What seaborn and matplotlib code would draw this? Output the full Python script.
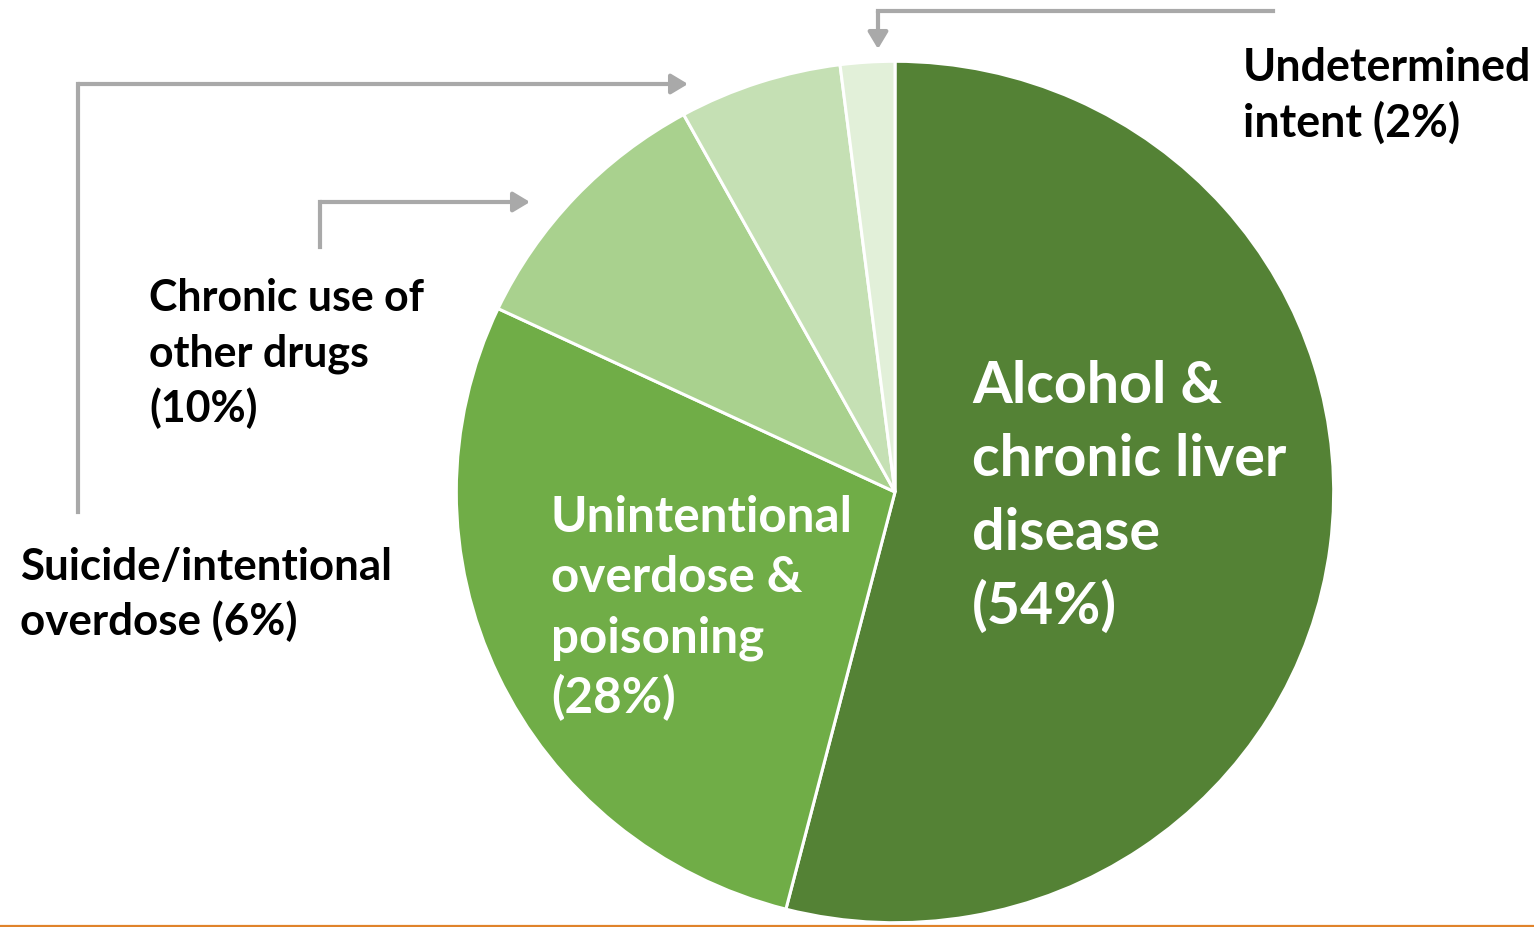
import matplotlib
matplotlib.use("Agg")
import matplotlib.pyplot as plt
import seaborn as sns

# Causes of death, share of total (%), clockwise from 12 o'clock
categories = [
    "Alcohol & chronic liver disease",
    "Unintentional overdose & poisoning",
    "Chronic use of other drugs",
    "Suicide/intentional overdose",
    "Undetermined intent",
]
shares = [54, 28, 10, 6, 2]
label_heads = [
    ["Alcohol &", "chronic liver", "disease"],
    ["Unintentional", "overdose &", "poisoning"],
    ["Chronic use of", "other drugs"],
    ["Suicide/intentional", "overdose"],
    ["Undetermined", "intent"],
]
slice_colors = ["#548235", "#70AD47", "#A9D18E", "#C5E0B4", "#E2F0D9"]

W, H, DPI = 1534, 928, 100
sns.set_theme(style="white")
plt.rcParams["font.family"] = ["Lato", "DejaVu Sans"]

fig = plt.figure(figsize=(W / DPI, H / DPI), dpi=DPI)
fig.patch.set_facecolor("white")

# pie gets its own axes spanning its pixel box (left, top, right, bottom)
pl, pt, pr, pb = 455, 61, 1335, 925
pie_ax = fig.add_axes([pl / W, (H - pb) / H, (pr - pl) / W, (pb - pt) / H])
pie_ax.pie(
    shares,
    colors=slice_colors,
    radius=1,
    startangle=90,
    counterclock=False,
    wedgeprops=dict(edgecolor="white", linewidth=2.2),
)
pie_ax.set_xlim(-1.003, 1.003)
pie_ax.set_ylim(-1.003, 1.003)
pie_ax.set_aspect("auto")
pie_ax.axis("off")

# overlay in pixel-like coordinates, y pointing down
ax = fig.add_axes([0, 0, 1, 1])
ax.set_xlim(0, W)
ax.set_ylim(H, 0)
ax.axis("off")
ax.patch.set_alpha(0)


def label_text(i):
    lines = list(label_heads[i])
    pct = f"({shares[i]}%)"
    if i in (0, 1, 2):
        lines.append(pct)
    else:
        lines[-1] = f"{lines[-1]} {pct}"
    return lines


# (x, first baseline, line step, size, colour)
placements = {
    0: (972, 403, 73.5, 41.3, "white"),
    1: (551, 532, 60.5, 35.6, "white"),
    2: (149, 311, 55.5, 30.9, "black"),
    3: (20, 580, 55.5, 31.6, "black"),
    4: (1243, 81, 56, 32.2, "black"),
}
for i, (x, y0, step, size, col) in placements.items():
    for k, line in enumerate(label_text(i)):
        ax.text(x, y0 + k * step, line, ha="left", va="baseline",
                fontsize=size, fontweight="bold", color=col)

# leader arrows
gray = "#A9A9A9"
leaders = [
    [(1273, 12), (878, 12), (878, 50)],   # undetermined
    [(78, 513), (78, 85), (688, 85)],     # suicide
    [(320, 248), (320, 203), (530, 203)], # chronic use
]
for pts in leaders:
    xs = [p[0] for p in pts[:-1]]
    ys = [p[1] for p in pts[:-1]]
    ax.plot(xs, ys, color=gray, lw=3, solid_capstyle="projecting")
    ax.annotate("", xy=pts[-1], xytext=pts[-2],
                arrowprops=dict(arrowstyle="-|>,head_length=0.5,head_width=0.3",
                                color=gray, lw=3, shrinkA=0, shrinkB=0,
                                mutation_scale=20))

# thin rule along the bottom edge
ax.axhline(926.8, color="#E0832B", lw=1.6)

fig.savefig("out.png", dpi=DPI, facecolor="white")
